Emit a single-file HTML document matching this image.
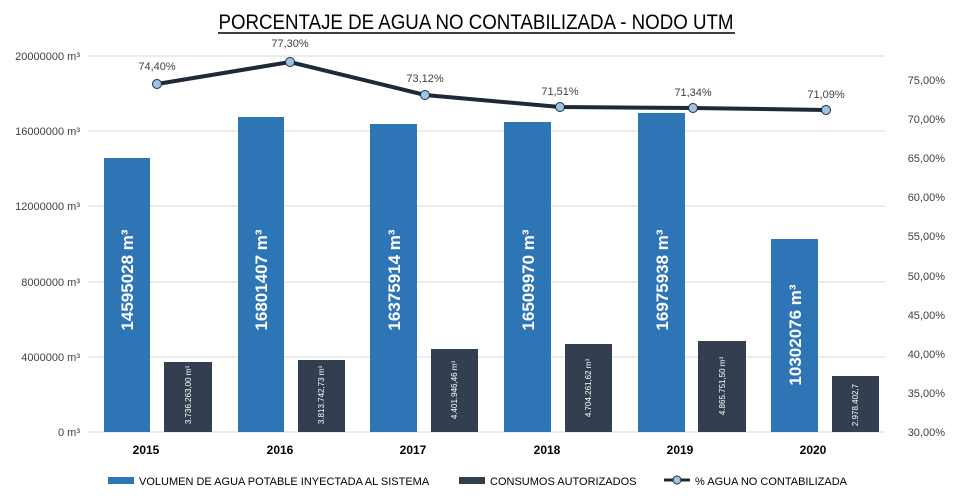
<!DOCTYPE html><html><head><meta charset="utf-8"><style>body{margin:0;background:#fff}svg{display:block}text{font-family:"Liberation Sans",sans-serif}</style></head><body>
<svg width="953" height="503" viewBox="0 0 953 503">
<rect width="953" height="503" fill="#fff"/>
<text x="476" y="29" text-anchor="middle" font-size="21" fill="#000" textLength="515" lengthAdjust="spacingAndGlyphs">PORCENTAJE DE AGUA NO CONTABILIZADA - NODO UTM</text>
<line x1="218" y1="33" x2="735" y2="33" stroke="#000" stroke-width="1.5"/>
<g stroke="#d9d9d9" stroke-width="1">
<line x1="88" y1="56" x2="885" y2="56"/><line x1="88" y1="131" x2="885" y2="131"/><line x1="88" y1="206" x2="885" y2="206"/><line x1="88" y1="282" x2="885" y2="282"/><line x1="88" y1="357" x2="885" y2="357"/><line x1="88" y1="432" x2="885" y2="432"/>
</g>
<g font-size="11" fill="#404040" text-anchor="end">
<text x="80" y="60">20000000 m³</text><text x="80" y="135">16000000 m³</text><text x="80" y="210">12000000 m³</text><text x="80" y="286">8000000 m³</text><text x="80" y="361">4000000 m³</text><text x="80" y="436">0 m³</text>
</g>
<g font-size="11" fill="#404040" text-anchor="end">
<text x="945" y="84">75,00%</text><text x="945" y="123">70,00%</text><text x="945" y="162">65,00%</text><text x="945" y="201">60,00%</text><text x="945" y="240">55,00%</text><text x="945" y="280">50,00%</text><text x="945" y="319">45,00%</text><text x="945" y="358">40,00%</text><text x="945" y="397">35,00%</text><text x="945" y="436">30,00%</text>
</g>
<g fill="#2e75b6">
<rect x="104" y="158" width="46" height="274"/><rect x="238" y="117" width="46" height="315"/><rect x="370" y="124" width="47" height="308"/><rect x="504" y="122" width="47" height="310"/><rect x="638" y="113" width="47" height="319"/><rect x="771" y="239" width="47" height="193"/>
</g>
<g fill="#333f50">
<rect x="164" y="362" width="48" height="70"/><rect x="298" y="360" width="47" height="72"/><rect x="431" y="349" width="47" height="83"/><rect x="565" y="344" width="47" height="88"/><rect x="698" y="341" width="48" height="91"/><rect x="832" y="376" width="47" height="56"/>
</g>
<g fill="#fff" font-size="17" font-weight="bold" text-anchor="middle">
<text transform="translate(133,280) rotate(-90)">14595028 m³</text>
<text transform="translate(267,280) rotate(-90)">16801407 m³</text>
<text transform="translate(400,280) rotate(-90)">16375914 m³</text>
<text transform="translate(534,280) rotate(-90)">16509970 m³</text>
<text transform="translate(668,280) rotate(-90)">16975938 m³</text>
<text transform="translate(801,335) rotate(-90)">10302076 m³</text>
</g>
<g fill="#fff" font-size="8" text-anchor="middle">
<text transform="translate(191,395) rotate(-90)">3.736.263,00 m³</text>
<text transform="translate(324,395) rotate(-90)">3.813.742,73 m³</text>
<text transform="translate(457,390) rotate(-90)">4.401.946,46 m³</text>
<text transform="translate(591,388) rotate(-90)">4.704.261,62 m³</text>
<text transform="translate(725,386) rotate(-90)">4.865.751,50 m³</text>
<text transform="translate(858,405) rotate(-90)">2.978.402,7</text>
</g>
<g font-size="12" font-weight="bold" fill="#000" text-anchor="middle">
<text x="146" y="454">2015</text><text x="280" y="454">2016</text><text x="413" y="454">2017</text><text x="547" y="454">2018</text><text x="680" y="454">2019</text><text x="813" y="454">2020</text>
</g>
<polyline points="157,84 290,62 425,95 560,107 693,108 826,110" fill="none" stroke="#1f2a38" stroke-width="4"/>
<g fill="#9dc3e6" stroke="#1f2a38" stroke-width="1">
<circle cx="157" cy="84" r="4.5"/><circle cx="290" cy="62" r="4.5"/><circle cx="425" cy="95" r="4.5"/><circle cx="560" cy="107" r="4.5"/><circle cx="693" cy="108" r="4.5"/><circle cx="826" cy="110" r="4.5"/>
</g>
<g font-size="11" fill="#404040" text-anchor="middle">
<text x="157" y="70">74,40%</text><text x="290" y="47">77,30%</text><text x="425" y="82">73,12%</text><text x="560" y="95">71,51%</text><text x="693" y="96">71,34%</text><text x="826" y="98">71,09%</text>
</g>
<rect x="108" y="477" width="26" height="7" fill="#2e75b6"/>
<text x="139" y="485" font-size="11" fill="#000">VOLUMEN DE AGUA POTABLE INYECTADA AL SISTEMA</text>
<rect x="459" y="477" width="26" height="7" fill="#333f50"/>
<text x="490" y="485" font-size="11" fill="#000">CONSUMOS AUTORIZADOS</text>
<line x1="664" y1="480" x2="690" y2="480" stroke="#1f2a38" stroke-width="3"/>
<circle cx="677" cy="480" r="4" fill="#9dc3e6" stroke="#1f2a38"/>
<text x="695" y="485" font-size="11" fill="#000">% AGUA NO CONTABILIZADA</text>
</svg></body></html>
